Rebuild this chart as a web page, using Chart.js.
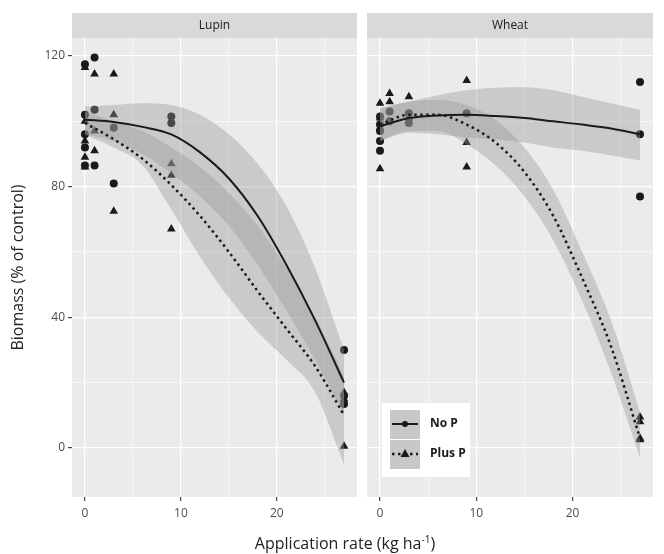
<!DOCTYPE html>
<html>
<head>
<meta charset="utf-8">
<script src="https://cdn.jsdelivr.net/npm/chart.js@4"></script>
<style>
  body { margin:0; background:#fff; width:664px; height:554px; position:relative; overflow:hidden; font-family:'Open Sans', sans-serif; }
  #left { position:absolute; left:0; top:0; width:362px; height:554px; }
  #right { position:absolute; left:362px; top:0; width:302px; height:554px; }
  #xtitle { position:absolute; left:145px; width:400px; top:534px; text-align:center; font-size:16px; color:#222; line-height:18px; }
  #xtitle sup { font-size:10px; line-height:0; vertical-align:6px; }
</style>
</head>
<body>
<div id="left"><canvas id="lupinChart"></canvas></div>
<div id="right"><canvas id="wheatChart"></canvas></div>
<div id="xtitle">Application rate (kg ha<sup>-1</sup>)</div>
<script>
// axis ticks
var xMajor = [0, 10, 20];
var xMinor = [5, 15, 25];
var yMajor = [0, 40, 80, 120];
var yMinor = [20, 60, 100];

// observed points [rate, biomass]
var lupinNoP = [[0,117.5],[0,102],[0,96],[0,92],[0,86.5],[1,119.5],[1,103.5],[1,86.5],[3,98],[3,81],[9,101.5],[9,99.5],[27,30],[27,16],[27,13.5]];
var lupinPlusP = [[0,116.5],[0,100],[0,94],[0,89],[0,86],[1,114.5],[1,97],[1,91],[3,114.5],[3,102],[3,72.5],[9,87],[9,83.5],[9,67],[27,17],[27,15],[27,0.5]];
var wheatNoP = [[0,101.5],[0,99],[0,97],[0,94],[0,91],[1,103],[1,100],[3,102.5],[3,99.5],[9,102.5],[27,112],[27,96],[27,77]];
var wheatPlusP = [[0,105.5],[0,101],[0,98],[0,85.5],[1,108.5],[1,106],[3,107.5],[3,101],[9,112.5],[9,93.5],[9,86],[27,9.5],[27,8],[27,3],[27,2.5]];

// fitted curves and confidence bands, read at these rates
var fitX = [0, 3, 6, 9, 12, 15, 18, 21, 24, 27];
var lupinNoPFit   = [100.5, 99.8, 98.3, 96, 90.5, 82.5, 71, 56, 39, 20];
var lupinNoPUpper = [104.5, 105, 105.5, 105, 102, 96, 87, 74, 55, 30];
var lupinNoPLower = [96, 94, 90, 84, 77, 68, 56, 42, 27, 10];
var lupinPlusPFit   = [99.5, 94.5, 88.5, 80.5, 71, 60, 48, 36.5, 25, 10];
var lupinPlusPUpper = [103, 100, 97, 92, 86, 78, 68, 55, 40, 22];
var lupinPlusPLower = [96, 92, 86.5, 73, 58.5, 46, 35.5, 27, 17, -5];
var wheatNoPFit   = [98.5, 101, 101.8, 102, 101.6, 101, 100, 99, 97.8, 96];
var wheatNoPUpper = [104, 106, 108, 109.5, 110.3, 110.4, 109.5, 107.5, 105.5, 103.5];
var wheatNoPLower = [94, 96.5, 96, 95, 94.5, 93.5, 92, 91, 89.5, 88];
var wheatPlusPFit   = [99, 102, 102, 99, 93.5, 84.5, 71, 52, 31, 3];
var wheatPlusPUpper = [104, 106, 106.5, 105, 100.5, 92, 79, 60, 39, 11];
var wheatPlusPLower = [94, 97, 97, 93, 86.5, 77, 63.5, 45, 23, -3];

Chart.defaults.font.family = "'Open Sans', 'DejaVu Sans', sans-serif";

function pts(arr) {
  return arr.map(function (p) { return { x: p[0], y: p[1] }; });
}
function curve(vals) {
  return fitX.map(function (x, i) { return { x: x, y: vals[i] }; });
}

// grey panel + facet strip
var stripPlugin = {
  id: 'strip',
  beforeDraw: function (chart, args, opts) {
    var ctx = chart.ctx, a = chart.chartArea;
    ctx.save();
    ctx.fillStyle = '#EBEBEB';
    ctx.fillRect(a.left, a.top, a.right - a.left, a.bottom - a.top);
    ctx.fillStyle = '#D9D9D9';
    ctx.fillRect(a.left, a.top - 25, a.right - a.left, 25);
    ctx.fillStyle = '#1a1a1a';
    ctx.font = "12px 'Open Sans'";
    ctx.textAlign = 'center';
    ctx.textBaseline = 'middle';
    ctx.fillText(opts.label, (a.left + a.right) / 2, a.top - 12);
    ctx.restore();
  }
};

// legend box inside the wheat panel
var keyPlugin = {
  id: 'keybox',
  afterDraw: function (chart, args, opts) {
    if (!opts.show) return;
    var ctx = chart.ctx, a = chart.chartArea;
    var x0 = a.left + 15, y0 = a.bottom - 94;
    ctx.save();
    ctx.fillStyle = '#fff';
    ctx.fillRect(x0, y0, 88, 74);
    ctx.fillStyle = '#C8C8C8';
    ctx.fillRect(x0 + 8, y0 + 7, 30, 29);
    ctx.fillRect(x0 + 8, y0 + 37, 30, 29);
    ctx.strokeStyle = '#1a1a1a';
    ctx.fillStyle = '#1a1a1a';
    ctx.lineWidth = 2;
    ctx.beginPath();
    ctx.moveTo(x0 + 10, y0 + 21); ctx.lineTo(x0 + 36, y0 + 21);
    ctx.stroke();
    ctx.beginPath(); ctx.arc(x0 + 23, y0 + 21, 3, 0, Math.PI * 2); ctx.fill();
    ctx.setLineDash([2.5, 3.5]);
    ctx.lineWidth = 2.5;
    ctx.beginPath();
    ctx.moveTo(x0 + 10, y0 + 51); ctx.lineTo(x0 + 36, y0 + 51);
    ctx.stroke();
    ctx.setLineDash([]);
    ctx.beginPath();
    ctx.moveTo(x0 + 23, y0 + 46); ctx.lineTo(x0 + 27.5, y0 + 54); ctx.lineTo(x0 + 18.5, y0 + 54);
    ctx.closePath(); ctx.fill();
    ctx.font = "bold 12px 'Open Sans'";
    ctx.textBaseline = 'middle';
    ctx.fillText('No P', x0 + 48, y0 + 21);
    ctx.fillText('Plus P', x0 + 48, y0 + 51);
    ctx.restore();
  }
};

function makePanel(id, label, noP, plusP, noPFit, noPUp, noPLow, plusPFit, plusPUp, plusPLow, isLeft) {
  var band = 'rgba(150,150,150,0.38)';
  var ink = '#1a1a1a';
  var ctx = document.getElementById(id).getContext('2d');
  return new Chart(ctx, {
    type: 'line',
    data: {
      datasets: [
        { data: curve(noPFit), borderColor: ink, borderWidth: 2, pointRadius: 0, cubicInterpolationMode: 'monotone', fill: false, order: 1 },
        { data: curve(plusPFit), borderColor: ink, borderWidth: 2.5, borderDash: [2.5, 3.5], pointRadius: 0, cubicInterpolationMode: 'monotone', fill: false, order: 1 },
        { data: curve(noPLow), borderWidth: 0, pointRadius: 0, cubicInterpolationMode: 'monotone', fill: false, order: 2 },
        { data: curve(noPUp), borderWidth: 0, pointRadius: 0, cubicInterpolationMode: 'monotone', fill: '-1', backgroundColor: band, order: 2 },
        { data: curve(plusPLow), borderWidth: 0, pointRadius: 0, cubicInterpolationMode: 'monotone', fill: false, order: 2 },
        { data: curve(plusPUp), borderWidth: 0, pointRadius: 0, cubicInterpolationMode: 'monotone', fill: '-1', backgroundColor: band, order: 2 },
        { data: pts(noP), showLine: false, pointStyle: 'circle', pointRadius: 4, pointBackgroundColor: ink, pointBorderWidth: 0, order: 3 },
        { data: pts(plusP), showLine: false, pointStyle: 'triangle', pointRadius: 5, pointBackgroundColor: ink, pointBorderWidth: 0, order: 3 }
      ]
    },
    options: {
      responsive: true,
      maintainAspectRatio: false,
      animation: false,
      events: [],
      layout: { padding: { top: 38, right: isLeft ? 1 : 11, left: 0, bottom: 0 } },
      scales: {
        x: {
          type: 'linear', min: -1.35, max: 28.35,
          afterBuildTicks: function (s) { s.ticks = xMajor.concat(xMinor).sort(function (a, b) { return a - b; }).map(function (v) { return { value: v }; }); },
          afterFit: function (s) { s.height = 57; },
          border: { display: false },
          grid: {
            color: '#fff',
            lineWidth: function (c) { return xMajor.indexOf(c.tick.value) >= 0 ? 1.2 : 0.6; },
            tickColor: function (c) { return xMajor.indexOf(c.tick.value) >= 0 ? '#444' : 'rgba(0,0,0,0)'; },
            tickLength: 4
          },
          ticks: {
            autoSkip: false, maxRotation: 0, padding: 5, color: '#4d4d4d', font: { size: 12 },
            callback: function (v) { return xMajor.indexOf(v) >= 0 ? String(v) : ''; }
          }
        },
        y: {
          min: -15, max: 125.5,
          afterBuildTicks: function (s) { s.ticks = yMajor.concat(yMinor).sort(function (a, b) { return a - b; }).map(function (v) { return { value: v }; }); },
          afterFit: function (s) { s.width = isLeft ? 72 : 5; },
          border: { display: false },
          grid: {
            color: '#fff',
            lineWidth: function (c) { return yMajor.indexOf(c.tick.value) >= 0 ? 1.2 : 0.6; },
            tickColor: function (c) { return yMajor.indexOf(c.tick.value) >= 0 ? '#444' : 'rgba(0,0,0,0)'; },
            tickLength: 4,
            drawTicks: isLeft
          },
          ticks: {
            display: isLeft, autoSkip: false, padding: 3, color: '#4d4d4d', font: { size: 12 },
            callback: function (v) { return yMajor.indexOf(v) >= 0 ? String(v) : ''; }
          },
          title: {
            display: isLeft, text: 'Biomass (% of control)', color: '#222', font: { size: 16 },
            padding: { top: 9, bottom: 0 }
          }
        }
      },
      plugins: {
        legend: { display: false },
        tooltip: { enabled: false },
        strip: { label: label },
        keybox: { show: !isLeft }
      }
    },
    plugins: [stripPlugin, keyPlugin]
  });
}

makePanel('lupinChart', 'Lupin', lupinNoP, lupinPlusP, lupinNoPFit, lupinNoPUpper, lupinNoPLower, lupinPlusPFit, lupinPlusPUpper, lupinPlusPLower, true);
makePanel('wheatChart', 'Wheat', wheatNoP, wheatPlusP, wheatNoPFit, wheatNoPUpper, wheatNoPLower, wheatPlusPFit, wheatPlusPUpper, wheatPlusPLower, false);
</script>
</body>
</html>
